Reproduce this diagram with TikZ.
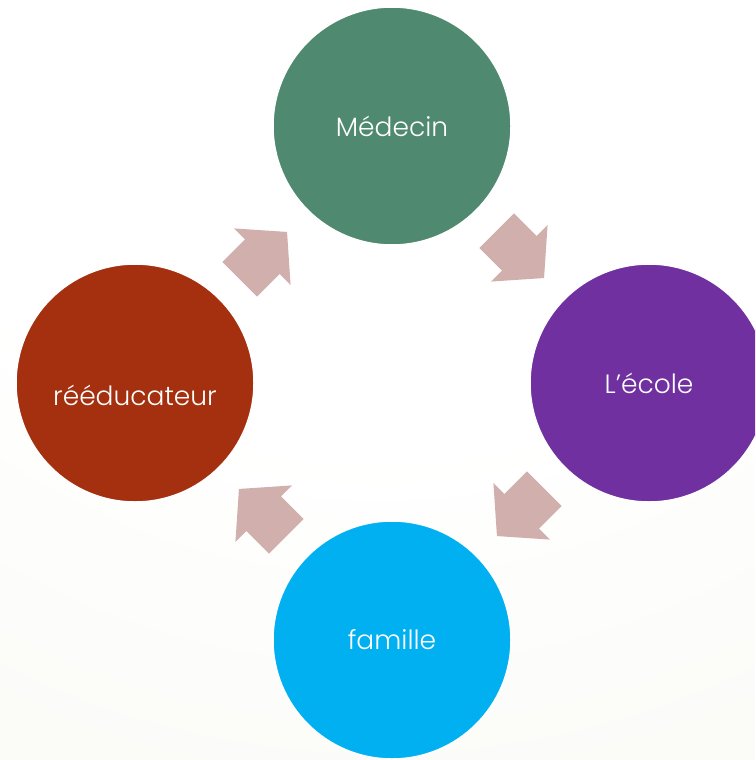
\documentclass[tikz,border=0pt]{standalone}
\usepackage{fontspec}
\setmainfont{Poppins Light}
\definecolor{bgc}{RGB}{240,244,229}
\definecolor{cmed}{RGB}{78,137,112}
\definecolor{cecole}{RGB}{112,48,160}
\definecolor{cfam}{RGB}{0,176,240}
\definecolor{creed}{RGB}{165,48,15}
\definecolor{carrow}{RGB}{208,175,173}
\tikzset{
  disc/.style={circle, minimum size=238pt, inner sep=0pt, draw=white, line width=1.5pt, text=white,
    font=\fontsize{26.5}{30}\selectfont},
  blockarrow/.pic={\fill[carrow] (-33,-24.5) -- (-1,-24.5) -- (-1,-40) -- (34,0) -- (-1,40) -- (-1,24.5) -- (-33,24.5) -- cycle;}
}
\begin{document}
\pgfdeclareradialshading{bgshade}{\pgfpoint{0bp}{0bp}}{color(0bp)=(white); color(13.5bp)=(white); color(47bp)=(bgc); color(50bp)=(bgc)}
\begin{tikzpicture}[x=1pt,y=-1pt]
\useasboundingbox (0,0) rectangle (755,760);
\clip (0,0) rectangle (755,760);
\fill[bgc] (0,0) rectangle (755,760);
\shade[shading=bgshade] (380,-100) circle (1000);
\node[disc, fill=cmed] (med) at (392,126) {Médecin};
\node[disc, fill=cecole] (eco) at (649,383) {L’école};
\node[disc, fill=cfam] (fam) at (392,640) {famille};
\node[disc, fill=creed] (ree) at (135,383) {\raisebox{-22pt}[0pt][0pt]{rééducateur}};
\pic[rotate=-45] (a1) at (520,254) {blockarrow};
\pic[rotate=-135] (a2) at (521,512) {blockarrow};
\pic[rotate=135] (a3) at (263,513) {blockarrow};
\pic[rotate=45] (a4) at (263,256) {blockarrow};
\end{tikzpicture}
\end{document}
